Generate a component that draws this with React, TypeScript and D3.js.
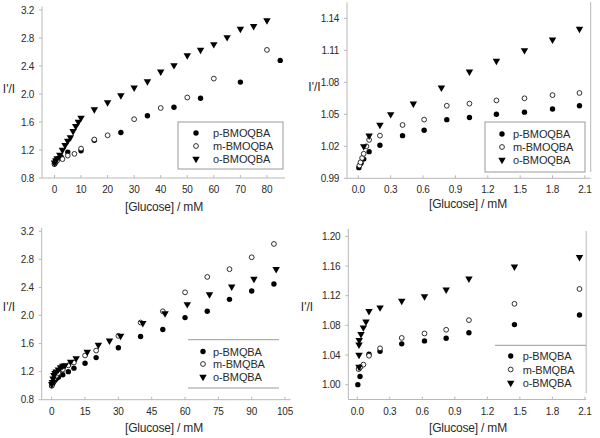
import React from "react";
import * as d3 from "d3";

// ---------- DATA ----------
// Panel A (top-left): BMOQBA, 0-85 mM
const aP: [number, number][] = [[0,1.0],[0.3,1.02],[0.6,1.04],[1,1.06],[1.5,1.08],[2,1.095],[2.5,1.1],[5,1.17],[10,1.19],[15,1.34],[25,1.45],[35,1.69],[45,1.81],[55,1.94],[70,2.17],[85,2.48]];
const aM: [number, number][] = [[0,1.0],[0.3,1.02],[0.6,1.035],[1,1.05],[3,1.07],[5,1.12],[7.5,1.145],[10,1.22],[15,1.35],[20,1.41],[30,1.64],[40,1.8],[50,1.95],[60,2.22],[80,2.63]];
const aO: [number, number][] = [[0,1.02],[0.5,1.05],[1,1.08],[2,1.13],[3,1.2],[4,1.27],[5,1.33],[6,1.38],[7,1.47],[8,1.54],[9,1.6],[10,1.66],[15,1.78],[20,1.88],[25,1.98],[30,2.09],[35,2.18],[40,2.32],[45,2.41],[50,2.55],[55,2.63],[60,2.71],[65,2.81],[70,2.93],[75,2.97],[80,3.05]];

// Panel B (top-right): BMOQBA, 0-2 mM
const bP: [number, number][] = [[0.005,1.0],[0.025,1.004],[0.05,1.008],[0.1,1.015],[0.2,1.021],[0.41,1.03],[0.61,1.035],[0.82,1.045],[1.03,1.047],[1.28,1.05],[1.54,1.052],[1.8,1.055],[2.05,1.058]];
const bM: [number, number][] = [[0.01,1.002],[0.02,1.005],[0.035,1.009],[0.05,1.013],[0.075,1.02],[0.1,1.026],[0.2,1.03],[0.41,1.04],[0.61,1.045],[0.82,1.058],[1.03,1.06],[1.28,1.063],[1.54,1.065],[1.8,1.068],[2.05,1.07]];
const bO: [number, number][] = [[0.05,1.02],[0.1,1.03],[0.2,1.04],[0.3,1.05],[0.51,1.06],[0.77,1.075],[1.03,1.09],[1.28,1.1],[1.54,1.11],[1.8,1.12],[2.05,1.13]];

// Panel C (bottom-left): BMQBA, 0-100 mM
const cP: [number, number][] = [[0,1.0],[0.5,1.03],[1,1.06],[1.5,1.08],[2,1.1],[3,1.12],[5,1.155],[7.5,1.2],[10,1.25],[15,1.32],[20,1.4],[30,1.54],[40,1.7],[50,1.8],[60,1.97],[70,2.06],[80,2.23],[90,2.35],[100,2.45]];
const cM: [number, number][] = [[0,1.0],[0.5,1.05],[1,1.1],[2,1.14],[3,1.18],[5,1.23],[7.5,1.29],[10,1.33],[15,1.43],[20,1.5],[30,1.71],[40,1.9],[50,2.06],[60,2.33],[70,2.55],[80,2.66],[90,2.83],[100,3.02]];
const cO: [number, number][] = [[0,1.02],[0.3,1.05],[0.6,1.1],[1,1.15],[1.5,1.18],[2,1.2],[3,1.23],[4,1.26],[5,1.28],[6,1.29],[8.5,1.34],[11,1.39],[16,1.48],[21,1.58],[26,1.64],[31,1.71],[41,1.89],[51,2.03],[61,2.16],[71,2.3],[81,2.41],[91,2.52],[101,2.66]];

// Panel D (bottom-right): BMQBA, 0-2 mM
const dP: [number, number][] = [[0.005,1.0],[0.025,1.011],[0.018,1.022],[0.108,1.041],[0.21,1.045],[0.41,1.055],[0.62,1.059],[0.82,1.0625],[1.03,1.07],[1.45,1.081],[2.05,1.094]];
const dM: [number, number][] = [[0.012,1.021],[0.03,1.024],[0.056,1.027],[0.108,1.039],[0.21,1.049],[0.41,1.063],[0.62,1.069],[0.82,1.074],[1.03,1.087],[1.45,1.109],[2.05,1.129]];
const dO: [number, number][] = [[0.016,1.024],[0.016,1.04],[0.016,1.054],[0.018,1.06],[0.034,1.068],[0.056,1.077],[0.08,1.085],[0.108,1.099],[0.21,1.104],[0.41,1.113],[0.62,1.119],[0.82,1.128],[1.03,1.143],[1.45,1.159],[2.05,1.172]];

const ticksA_x = [0, 10, 20, 30, 40, 50, 60, 70, 80];
const ticksA_y = [0.8, 1.2, 1.6, 2.0, 2.4, 2.8, 3.2];
const ticksB_x = [0.0, 0.3, 0.6, 0.9, 1.2, 1.5, 1.8, 2.1];
const ticksB_y = [0.99, 1.02, 1.05, 1.08, 1.11, 1.14];
const ticksC_x = [0, 15, 30, 45, 60, 75, 90, 105];
const ticksC_y = [0.8, 1.2, 1.6, 2.0, 2.4, 2.8, 3.2];
const ticksD_x = [0.0, 0.3, 0.6, 0.9, 1.2, 1.5, 1.8, 2.1];
const ticksD_y = [1.0, 1.04, 1.08, 1.12, 1.16, 1.2];

const namesTop = ["p-BMOQBA", "m-BMOQBA", "o-BMOQBA"];
const namesBottom = ["p-BMQBA", "m-BMQBA", "o-BMQBA"];

// ---------- LAYOUT ----------
const FONT = "Arial, 'Liberation Sans', Helvetica, sans-serif";
const AXIS = "#b8b8b8";
const TXT = "#2a2a2a";

type Panel = {
  xd: [number, number]; xr: [number, number];
  yd: [number, number]; yr: [number, number];
  xt: number[]; yt: number[]; xf: (v: number) => string; yf: (v: number) => string;
  series: [number, number][][]; names: string[];
  yLabel: [number, number]; xLabel: [number, number];
  legend: { mx: number; tx: number; rows: number[] };
  box?: [number, number, number, number];
  hlines?: [number, number, number][];
  vlines?: [number, number, number][];
};

const panels: Panel[] = [
  {
    xd: [-4.7, 86.8], xr: [42, 285], yd: [0.8, 3.25], yr: [178, 6.5],
    xt: ticksA_x, yt: ticksA_y, xf: d3.format("d"), yf: d3.format(".1f"),
    series: [aP, aM, aO], names: namesTop,
    yLabel: [9, 93], xLabel: [164, 211],
    legend: { mx: 196, tx: 213, rows: [133, 146, 159] },
    box: [178, 122, 283, 169],
  },
  {
    xd: [-0.105, 2.154], xr: [347, 590.7], yd: [0.99, 1.155], yr: [178.3, 2.3],
    xt: ticksB_x, yt: ticksB_y, xf: d3.format(".1f"), yf: d3.format(".2f"),
    series: [bP, bM, bO], names: namesTop,
    yLabel: [314.5, 91], xLabel: [468, 208],
    legend: { mx: 502, tx: 513, rows: [134, 147, 160] },
    box: [485, 122, 585, 172],
    vlines: [[590.7, 2, 172]],
  },
  {
    xd: [-4.5, 107.5], xr: [41.7, 290.6], yd: [0.8, 3.25], yr: [399.7, 227.8],
    xt: ticksC_x, yt: ticksC_y, xf: d3.format("d"), yf: d3.format(".1f"),
    series: [cP, cM, cO], names: namesBottom,
    yLabel: [9, 311], xLabel: [164, 432],
    legend: { mx: 203, tx: 213, rows: [351.5, 364, 377] },
    hlines: [[188, 279, 339.7], [188, 279, 388]],
  },
  {
    xd: [-0.083, 2.112], xr: [348.3, 586.2], yd: [0.98, 1.21], yr: [399.5, 228.9],
    xt: ticksD_x, yt: ticksD_y, xf: d3.format(".1f"), yf: d3.format(".2f"),
    series: [dP, dM, dO], names: namesBottom,
    yLabel: [307, 311], xLabel: [468, 432],
    legend: { mx: 510.7, tx: 522.7, rows: [356, 369.5, 383] },
    hlines: [[495, 586.2, 345.3]],
    vlines: [[586.2, 231, 393]],
  },
];

const triPath = d3.symbol(d3.symbolTriangle, 24)() as string;

function Marker({ kind, x, y }: { kind: number; x: number; y: number }) {
  if (kind === 0) return <circle cx={x} cy={y} r={2.7} fill="#000" />;
  if (kind === 1) return <circle cx={x} cy={y} r={2.4} fill="#fff" stroke="#1a1a1a" strokeWidth={0.9} />;
  return <path d={triPath} transform={`translate(${x},${y}) rotate(180)`} fill="#000" />;
}

function PanelView({ p }: { p: Panel }) {
  const x = d3.scaleLinear().domain(p.xd).range(p.xr);
  const y = d3.scaleLinear().domain(p.yd).range(p.yr);
  const y0 = p.yr[0];
  const x0 = p.xr[0];
  return (
    <g fontFamily={FONT}>
      {/* axes */}
      <line x1={x0} x2={p.xr[1]} y1={y0} y2={y0} stroke={AXIS} strokeWidth={1} />
      <line x1={x0} x2={x0} y1={y0} y2={p.yr[1]} stroke={AXIS} strokeWidth={1} />
      {p.xt.map((t) => (
        <g key={"xt" + t}>
          <line x1={x(t)} x2={x(t)} y1={y0} y2={y0 - 3} stroke={AXIS} />
          <text x={x(t)} y={y0 + 15} textAnchor="middle" fontSize={10} letterSpacing={-0.2} fill={TXT}>{p.xf(t)}</text>
        </g>
      ))}
      {p.yt.map((t) => (
        <g key={"yt" + t}>
          <line x1={x0} x2={x0 - 3} y1={y(t)} y2={y(t)} stroke={AXIS} />
          <text x={x0 - 8} y={y(t) + 3.6} textAnchor="end" fontSize={10} letterSpacing={-0.3} fill={TXT}>{p.yf(t)}</text>
        </g>
      ))}
      <text x={p.yLabel[0]} y={p.yLabel[1]} textAnchor="middle" fontSize={12} fill={TXT}>I'/I</text>
      <text x={p.xLabel[0]} y={p.xLabel[1]} textAnchor="middle" fontSize={12} letterSpacing={-0.2} fill={TXT}>[Glucose] / mM</text>
      {/* frame pieces */}
      {p.box && (
        <rect x={p.box[0]} y={p.box[1]} width={p.box[2] - p.box[0]} height={p.box[3] - p.box[1]}
          fill="#fff" stroke="#9a9a9a" strokeWidth={1} />
      )}
      {p.hlines && p.hlines.map((h, i) => (
        <line key={"h" + i} x1={h[0]} x2={h[1]} y1={h[2]} y2={h[2]} stroke="#9a9a9a" />
      ))}
      {p.vlines && p.vlines.map((v, i) => (
        <line key={"v" + i} x1={v[0]} x2={v[0]} y1={v[1]} y2={v[2]} stroke={AXIS} />
      ))}
      {/* data */}
      {p.series.map((s, k) => (
        <g key={"s" + k}>
          {s.map((d, i) => <Marker key={i} kind={k} x={x(d[0])} y={y(d[1])} />)}
        </g>
      ))}
      {/* legend */}
      {p.names.map((n, k) => (
        <g key={"l" + k}>
          <Marker kind={k} x={p.legend.mx} y={p.legend.rows[k]} />
          <text x={p.legend.tx} y={p.legend.rows[k] + 4} fontSize={11} letterSpacing={-0.1} fill={TXT}>{n}</text>
        </g>
      ))}
    </g>
  );
}

export default function App() {
  return (
    <svg width={600} height={438} style={{ position: "absolute", left: 0, top: 0, background: "#fff" }}>
      <rect x={0} y={0} width={600} height={438} fill="#fff" />
      {panels.map((p, i) => <PanelView key={i} p={p} />)}
    </svg>
  );
}
